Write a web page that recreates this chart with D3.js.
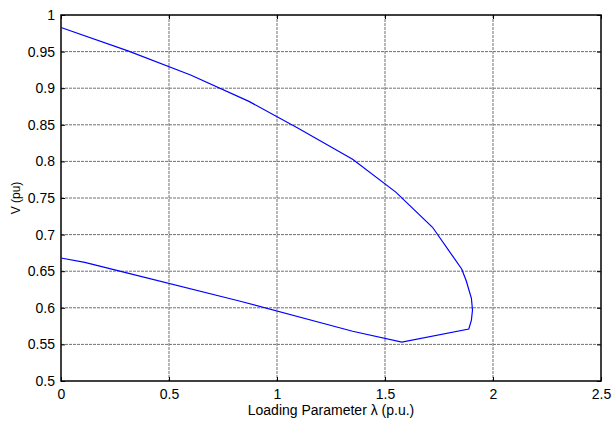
<!DOCTYPE html>
<html>
<head>
<meta charset="utf-8">
<script src="https://cdn.jsdelivr.net/npm/d3@7"></script>
<style>
  body { margin: 0; background: #fff; }
  text { font-family: "Liberation Sans", Arial, sans-serif; fill: #000; }
</style>
</head>
<body>
<div id="chart"></div>
<script>
// P-V curve, traced from upper branch through nose to lower branch
var lambdaVals = [0, 0.31, 0.6, 0.87, 1.1, 1.35, 1.55, 1.72, 1.855, 1.876, 1.9, 1.905, 1.9, 1.888, 1.578, 1.35, 0.83, 0.3, 0.11, 0];
var voltVals = [0.983, 0.951, 0.918, 0.882, 0.845, 0.803, 0.758, 0.710, 0.653, 0.637, 0.613, 0.597, 0.583, 0.571, 0.553, 0.568, 0.609, 0.648, 0.662, 0.668];

var xTicks = [0, 0.5, 1, 1.5, 2, 2.5];
var yTicks = [0.5, 0.55, 0.6, 0.65, 0.7, 0.75, 0.8, 0.85, 0.9, 0.95, 1];

const W = 612, H = 426;
const margin = { top: 15, right: 11, bottom: 45, left: 61 };
const width = W - margin.left - margin.right;
const height = H - margin.top - margin.bottom;

const svg = d3.select("#chart").append("svg")
  .attr("width", W)
  .attr("height", H);

const g = svg.append("g")
  .attr("transform", "translate(" + margin.left + "," + margin.top + ")");

const x = d3.scaleLinear().domain([0, 2.5]).range([0, width]);
const y = d3.scaleLinear().domain([0.5, 1]).range([height, 0]);

// grid
g.append("g").selectAll("line").data(xTicks.slice(1, -1)).enter().append("line")
  .attr("x1", d => x(d)).attr("x2", d => x(d))
  .attr("y1", 0).attr("y2", height)
  .attr("stroke", "#707070").attr("stroke-dasharray", "3,1");
g.append("g").selectAll("line").data(yTicks.slice(1, -1)).enter().append("line")
  .attr("y1", d => y(d)).attr("y2", d => y(d))
  .attr("x1", 0).attr("x2", width)
  .attr("stroke", "#707070").attr("stroke-dasharray", "3,1");

// axes, ticks inward like matlab
const fmt = d => String(d);
const xAxis = g.append("g").attr("transform", "translate(0," + height + ")")
  .call(d3.axisBottom(x).tickValues(xTicks).tickFormat(fmt).tickSizeInner(-4).tickSizeOuter(0).tickPadding(8));
const xTop = g.append("g")
  .call(d3.axisTop(x).tickValues(xTicks).tickFormat("").tickSizeInner(-4).tickSizeOuter(0));
const yAxis = g.append("g")
  .call(d3.axisLeft(y).tickValues(yTicks).tickFormat(fmt).tickSizeInner(-4).tickSizeOuter(0).tickPadding(6));
const yRight = g.append("g").attr("transform", "translate(" + width + ",0)")
  .call(d3.axisRight(y).tickValues(yTicks).tickFormat("").tickSizeInner(-4).tickSizeOuter(0));

[xAxis, xTop, yAxis, yRight].forEach(function (a) {
  a.select(".domain").remove();
  a.selectAll("text").style("font-size", "14px").attr("fill", "#000");
});

// box
g.append("rect")
  .attr("x", 0).attr("y", 0)
  .attr("width", width).attr("height", height)
  .attr("fill", "none").attr("stroke", "#000").attr("stroke-width", 1.5);

// curve
var pts = lambdaVals.map((l, i) => [l, voltVals[i]]);
var line = d3.line().x(d => x(d[0])).y(d => y(d[1]));
g.append("path").datum(pts)
  .attr("d", line)
  .attr("fill", "none")
  .attr("stroke", "#0000ff")
  .attr("stroke-width", 1.2);

// labels
svg.append("text")
  .attr("x", margin.left + width / 2).attr("y", 415)
  .attr("text-anchor", "middle")
  .style("font-size", "14px")
  .text("Loading Parameter λ (p.u.)");

svg.append("text")
  .attr("transform", "translate(20," + (margin.top + height / 2) + ") rotate(-90)")
  .attr("text-anchor", "middle")
  .style("font-size", "12px")
  .text("V (pu)");
</script>
</body>
</html>
